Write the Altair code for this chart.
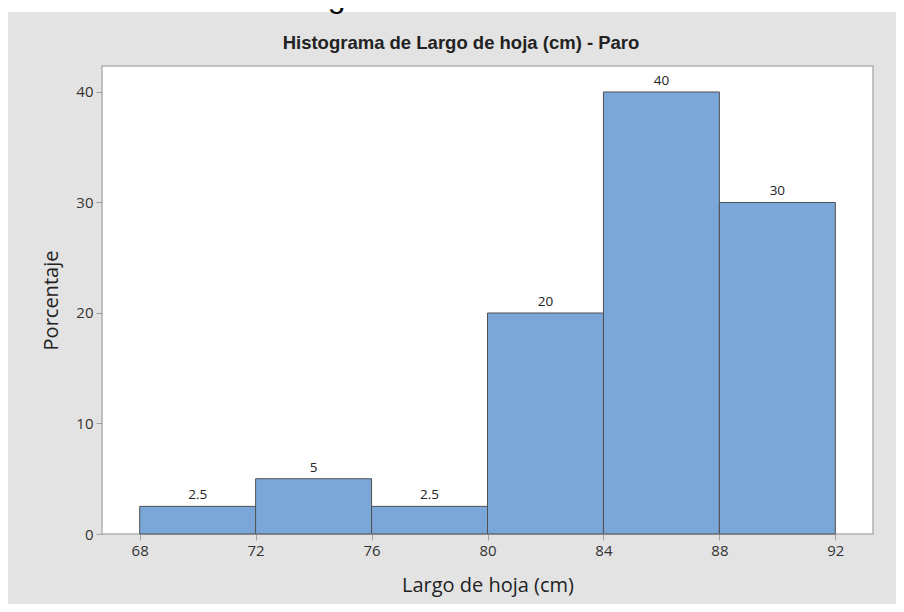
import altair as alt
import pandas as pd

# ---- data ----
bin_start = [68, 72, 76, 80, 84, 88]
bin_end = [72, 76, 80, 84, 88, 92]
percent = [2.5, 5, 2.5, 20, 40, 30]
bar_labels = ["2.5", "5", "2.5", "20", "40", "30"]
x_ticks = [68, 72, 76, 80, 84, 88, 92]
y_ticks = [0, 10, 20, 30, 40]

outer_title = "Gráfico 10: Histograma de frecuencias — Raza Paro"
inner_title = "Histograma de Largo de hoja (cm) - Paro"
x_title = "Largo de hoja (cm)"
y_title = "Porcentaje"

df = pd.DataFrame({"start": bin_start, "end": bin_end, "pct": percent, "label": bar_labels})
df["mid"] = (df["start"] + df["end"]) / 2
one = pd.DataFrame({"k": [0]})

W, H = 771, 468
PL, PT, PR, PB = 94, 58, 23, 70
GREY = "#e3e3e3"
UI_FONT = "Open Sans"

xscale = alt.Scale(domain=[66.7, 93.3], nice=False, zero=False)
yscale = alt.Scale(domain=[0, 42.35], nice=False)

x_axis = alt.Axis(values=x_ticks, title=x_title, grid=False, domain=False,
                  tickColor="#a0a0a0", tickSize=6, labelFont=UI_FONT, labelFontSize=15,
                  labelColor="#333333", labelPadding=3, titleFont=UI_FONT, titleFontSize=20,
                  titleFontWeight="normal", titleColor="#222222", titlePadding=17)
y_axis = alt.Axis(values=y_ticks, title=y_title, grid=False, domain=False,
                  tickColor="#a0a0a0", tickSize=6, labelFont=UI_FONT, labelFontSize=15,
                  labelColor="#333333", labelPadding=3, titleFont=UI_FONT, titleFontSize=20,
                  titleFontWeight="normal", titleColor="#222222", titlePadding=14)

bars = alt.Chart(df).mark_rect(fill="#7BA6D8", stroke="#505050", strokeWidth=1).encode(
    x=alt.X("start:Q", scale=xscale, axis=x_axis),
    x2="end:Q",
    y=alt.Y("pct:Q", scale=yscale, axis=y_axis),
    y2=alt.datum(0),
)

labels = alt.Chart(df).mark_text(baseline="bottom", dy=-4, font=UI_FONT, fontSize=13.5,
                                 color="#222222").encode(
    x=alt.X("mid:Q", scale=xscale),
    y=alt.Y("pct:Q", scale=yscale),
    text="label:N",
)

# white strip above the grey panel
strip = alt.Chart(one).mark_rect(fill="white").encode(
    x=alt.value(-PL), x2=alt.value(W + PR), y=alt.value(-PT), y2=alt.value(-PT + 4)
)

outer = alt.Chart(one).mark_text(text=outer_title, font="Liberation Sans", fontSize=32,
                                 align="center", baseline="alphabetic", color="black").encode(
    x=alt.value(361), y=alt.value(-59)
)

inner = alt.Chart(one).mark_text(text=inner_title, font="Liberation Sans", fontSize=18.5,
                                 fontWeight="bold", align="center", baseline="alphabetic",
                                 color="#222222").encode(
    x=alt.value(359), y=alt.value(-17)
)

chart = alt.layer(bars, labels, strip, outer, inner).properties(
    width=W, height=H,
    autosize=alt.AutoSizeParams(type="none"),
    padding={"left": PL, "top": PT, "right": PR, "bottom": PB},
).configure(background=GREY).configure_view(fill="white", stroke="#b0b0b0", strokeWidth=1.5)

chart.save("out.html", embed_options={"renderer": "svg", "actions": False})
